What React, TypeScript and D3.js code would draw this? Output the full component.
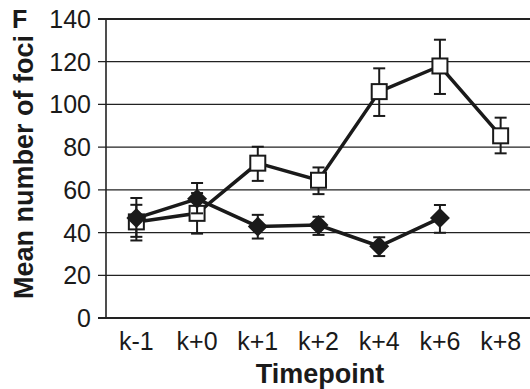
import React from "react";
import * as d3 from "d3";

const categories = ["k-1", "k+0", "k+1", "k+2", "k+4", "k+6", "k+8"];
const squareMean = [45, 49, 72.5, 64.5, 106, 118, 85.3];
const squareLow = [36.3, 39.5, 64.2, 58, 94.6, 104.9, 77.1];
const squareHigh = [53, 58.5, 80.2, 70.5, 116.9, 130.3, 93.8];
const diamondMean = [46.8, 55.8, 42.8, 43.5, 33.6, 46.8];
const diamondLow = [38, 49, 37.2, 38.9, 29, 39.9];
const diamondHigh = [56.2, 63.2, 48.3, 47.4, 37.8, 52.9];
const yTicks = [0, 20, 40, 60, 80, 100, 120, 140];

export default function App() {
  const W = 530, H = 389;
  const x = d3.scaleBand<string>().domain(categories).range([106, 531]);
  const cx = (c: string) => (x(c) as number) + x.bandwidth() / 2;
  const y = d3.scaleLinear().domain([0, 140]).range([318, 19]);
  const line = d3.line<number>().x((_, i) => cx(categories[i])).y((d) => y(d));
  const font = "Arial, 'Liberation Sans', Helvetica, sans-serif";
  const cap = 6;

  const errBars = (mean: number[], lo: number[], hi: number[], key: string) =>
    mean.map((_, i) => {
      const X = cx(categories[i]);
      return (
        <g key={key + i} stroke="#1a1a1a" strokeWidth={2}>
          <line x1={X} x2={X} y1={y(lo[i])} y2={y(hi[i])} />
          <line x1={X - cap} x2={X + cap} y1={y(lo[i])} y2={y(lo[i])} />
          <line x1={X - cap} x2={X + cap} y1={y(hi[i])} y2={y(hi[i])} />
        </g>
      );
    });

  return (
    <svg width={W} height={H} style={{ position: "absolute", left: 0, top: 0, background: "#fff" }}>
      {yTicks.map((t) => (
        <g key={t}>
          <line x1={98} x2={530} y1={y(t)} y2={y(t)} stroke="#222"
            strokeWidth={t === 0 || t === 140 ? 2.2 : 1.3} />
          <text x={91} y={y(t)} dy="0.36em" textAnchor="end" fontFamily={font} fontSize={25} fill="#1a1a1a">
            {t}
          </text>
        </g>
      ))}
      <line x1={106} x2={106} y1={y(140)} y2={y(0)} stroke="#222" strokeWidth={1.6} />
      {categories.map((c) => (
        <text key={c} x={cx(c)} y={350} textAnchor="middle" fontFamily={font} fontSize={25} fill="#1a1a1a">
          {c}
        </text>
      ))}
      <text x={320} y={383} textAnchor="middle" fontFamily={font} fontSize={27} fontWeight="bold" fill="#1a1a1a">
        Timepoint
      </text>
      <text transform="translate(33,167) rotate(-90)" textAnchor="middle" fontFamily={font} fontSize={27}
        fontWeight="bold" fill="#1a1a1a">
        Mean number of foci
      </text>
      <text x={12} y={28} fontFamily={font} fontSize={25} fontWeight="bold" fill="#1a1a1a">F</text>

      {/* square series */}
      {errBars(squareMean, squareLow, squareHigh, "s")}
      <path d={line(squareMean) || ""} fill="none" stroke="#1a1a1a" strokeWidth={3.5} />
      {squareMean.map((v, i) => (
        <rect key={"sq" + i} x={cx(categories[i]) - 7.5} y={y(v) - 7.5} width={15} height={15}
          fill="#fff" stroke="#1a1a1a" strokeWidth={2} />
      ))}

      {/* diamond series */}
      {errBars(diamondMean, diamondLow, diamondHigh, "d")}
      <path d={line(diamondMean) || ""} fill="none" stroke="#1a1a1a" strokeWidth={3.5} />
      {diamondMean.map((v, i) => {
        const X = cx(categories[i]);
        const Y = y(v);
        const r = 10;
        return (
          <path key={"dm" + i} d={`M${X},${Y - r}L${X + r},${Y}L${X},${Y + r}L${X - r},${Y}Z`} fill="#1a1a1a" />
        );
      })}
    </svg>
  );
}
